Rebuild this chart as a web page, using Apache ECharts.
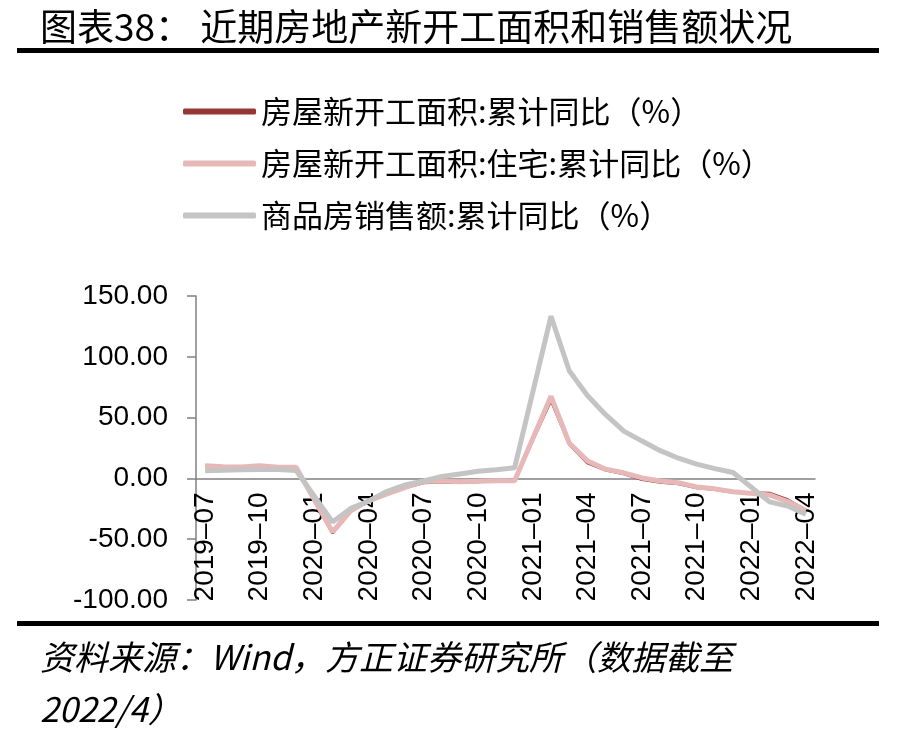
<!DOCTYPE html>
<html>
<head>
<meta charset="utf-8">
<script src="https://cdn.jsdelivr.net/npm/echarts@6/dist/echarts.min.js"></script>
<style>
  html, body { margin: 0; padding: 0; background: #fff; }
  #chart { width: 897px; height: 734px; }
</style>
</head>
<body>
<div id="chart"></div>
<script>
// 月份（1月无单独数据，1-2月合并公布）
var months = [
    '2019-07','2019-08','2019-09','2019-10','2019-11','2019-12',
    '2020-01','2020-02','2020-03','2020-04','2020-05','2020-06',
    '2020-07','2020-08','2020-09','2020-10','2020-11','2020-12',
    '2021-01','2021-02','2021-03','2021-04','2021-05','2021-06',
    '2021-07','2021-08','2021-09','2021-10','2021-11','2021-12',
    '2022-01','2022-02','2022-03','2022-04'
];
var newStartArea = [9.5, 8.9, 8.6, 10.0, 8.6, 8.5,
    null, -44.9, -27.2, -18.4, -12.8, -7.6, -3.6, -2.9, -3.4, -2.7, -2.0, -1.2,
    null, 64.3, 28.2, 12.8, 6.9, 3.8, -0.9, -3.2, -4.5, -7.7, -9.1, -11.4,
    null, -12.2, -17.5, -26.3];
var newStartHousing = [10.5, 9.5, 9.4, 10.5, 9.2, 9.2,
    null, -44.0, -26.5, -18.3, -12.7, -7.3, -2.6, -2.1, -2.7, -2.4, -1.9, -1.9,
    null, 67.5, 29.1, 14.4, 7.6, 4.6, 0.4, -2.1, -3.5, -7.0, -8.6, -10.9,
    null, -13.6, -19.0, -26.3];
var salesAmount = [6.2, 6.7, 7.1, 7.3, 7.3, 6.5,
    null, -35.9, -24.7, -18.6, -10.6, -5.4, -2.1, 1.6, 3.7, 5.8, 7.2, 8.7,
    null, 133.4, 88.5, 68.2, 52.4, 38.9, 30.7, 22.8, 16.6, 11.8, 8.0, 4.8,
    null, -19.3, -22.7, -29.5];
var seriesNames = ['房屋新开工面积:累计同比（%）', '房屋新开工面积:住宅:累计同比（%）', '商品房销售额:累计同比（%）'];
var yTicks = [-100, -50, 0, 50, 100, 150];

var cjk = '"Noto Sans CJK SC", sans-serif';
var chart = echarts.init(document.getElementById('chart'));

var gridTop = 296, gridBottom = 134;
var plotH = 734 - gridTop - gridBottom;
var yMin = yTicks[0], yMax = yTicks[yTicks.length - 1];
// x轴放在0值处（标签跟随）
var zeroOffset = -plotH * (0 - yMin) / (yMax - yMin);

function every3(i) { return i % 3 === 0; }

var option = {
    backgroundColor: '#fff',
    animation: false,
    color: ['#953735', '#E6B9B8', '#C4C4C4'],
    graphic: [
        { type: 'text', left: 40, top: 8, style: { text: '图表38： 近期房地产新开工面积和销售额状况', font: '37px ' + cjk, fill: '#000' } },
        { type: 'rect', shape: { x: 17, y: 48, width: 862, height: 5 }, style: { fill: '#000' } },
        { type: 'rect', shape: { x: 17, y: 621, width: 862, height: 5 }, style: { fill: '#000' } },
        { type: 'text', left: 40, top: 640, style: { text: '资料来源：Wind，方正证券研究所（数据截至', font: 'italic 34px ' + cjk, fill: '#000' } },
        { type: 'text', left: 40, top: 692, style: { text: '2022/4）', font: 'italic 34px ' + cjk, fill: '#000' } }
    ],
    legend: {
        orient: 'vertical',
        left: 178,
        top: 91,
        itemWidth: 73,
        itemHeight: 6,
        itemGap: 21,
        icon: 'roundRect',
        data: seriesNames,
        textStyle: { fontSize: 31, lineHeight: 31, fontFamily: cjk, color: '#000' }
    },
    grid: { left: 196, right: 82, top: gridTop, bottom: gridBottom },
    xAxis: {
        type: 'category',
        data: months,
        boundaryGap: true,
        offset: zeroOffset,
        axisLine: { onZero: false, lineStyle: { color: '#808080', width: 1.5 } },
        axisTick: { alignWithLabel: true, interval: function (i) { return every3(i); }, length: 8, lineStyle: { color: '#808080', width: 1.5 } },
        axisLabel: {
            interval: function (i) { return every3(i); },
            rotate: 90,
            margin: 14,
            fontSize: 28,
            fontFamily: 'Liberation Sans, Arial, sans-serif',
            color: '#000',
            formatter: function (v) { return v.replace('-', '–'); }
        },
        splitLine: { show: false }
    },
    yAxis: {
        type: 'value',
        min: yMin,
        max: yMax,
        interval: 50,
        axisLine: { show: true, lineStyle: { color: '#808080', width: 1.5 } },
        axisTick: { show: true, length: 9, lineStyle: { color: '#808080', width: 1.5 } },
        axisLabel: {
            margin: 28,
            fontSize: 28,
            fontFamily: 'Liberation Sans, Arial, sans-serif',
            color: '#000',
            formatter: function (v) { return v.toFixed(2); }
        },
        splitLine: { show: false }
    },
    series: [
        { name: seriesNames[0], type: 'line', data: newStartArea, connectNulls: true, showSymbol: false, z: 2, lineStyle: { width: 3 } },
        { name: seriesNames[1], type: 'line', data: newStartHousing, connectNulls: true, showSymbol: false, z: 3, lineStyle: { width: 5 } },
        { name: seriesNames[2], type: 'line', data: salesAmount, connectNulls: true, showSymbol: false, z: 4, lineStyle: { width: 5 } }
    ]
};
chart.setOption(option);
window.addEventListener('resize', chart.resize);
</script>
</body>
</html>
